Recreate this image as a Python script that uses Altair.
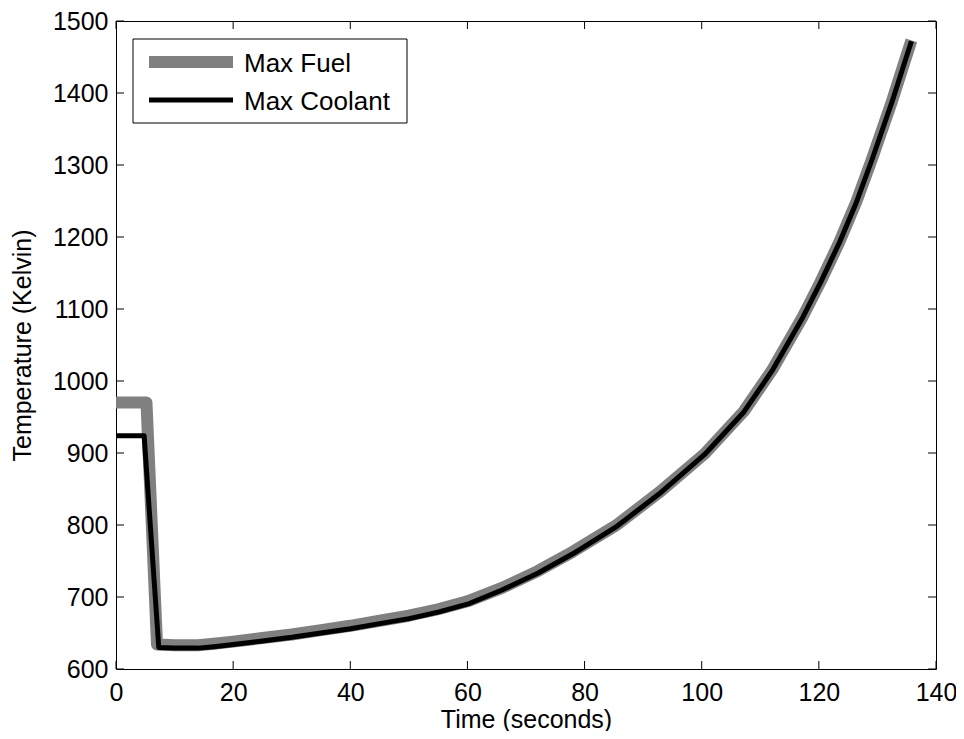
import altair as alt
import pandas as pd

# ---- data ----
time_fuel = [0, 5.2, 7.0, 10, 14, 16.7, 20, 25, 30, 35, 40, 45, 50, 55, 60, 66, 72, 78,
             85.3, 92.7, 100.5, 107.2, 112, 117.1, 120.3, 123.5, 126.4, 129.1, 132.5, 135.8]
temp_fuel = [970, 970, 634, 633, 633, 635, 638, 643, 648, 654, 660, 667, 674, 683, 694, 713, 736, 763,
             799, 845, 899, 958, 1015, 1087, 1138, 1193, 1249, 1309, 1389, 1473]

time_coolant = [0, 4.8, 7.3, 10, 14, 16.7, 20, 25, 30, 35, 40, 45, 50, 55, 60, 66, 72, 78,
                85.3, 92.7, 100.5, 107.2, 112, 117.1, 120.3, 123.5, 126.4, 129.1, 132.5, 135.8]
temp_coolant = [924, 924, 630, 629, 629, 631, 634, 639, 644, 650, 656, 663, 670, 679, 690, 710, 733, 760,
                797, 843, 898, 957, 1014, 1086, 1137, 1192, 1248, 1308, 1388, 1472]

x_ticks = [0, 20, 40, 60, 80, 100, 120, 140]
y_ticks = [600, 700, 800, 900, 1000, 1100, 1200, 1300, 1400, 1500]
series_names = ["Max Fuel", "Max Coolant"]
series_colors = ["#808080", "#000000"]
series_widths = [12, 5]

FONT = "Liberation Sans"
FS = 25
FS_LEG = 26
W, H = 820, 648

fuel = pd.DataFrame({"t": time_fuel, "T": temp_fuel, "i": list(range(len(time_fuel)))})
cool = pd.DataFrame({"t": time_coolant, "T": temp_coolant, "i": list(range(len(time_coolant)))})

xs = alt.Scale(domain=[0, 140], nice=False, zero=False)
ys = alt.Scale(domain=[600, 1500], nice=False, zero=False)

x_axis = alt.Axis(values=x_ticks, format="d", title="Time (seconds)", grid=False, domain=False, ticks=False,
                  tickSize=0, labelPadding=11, titlePadding=2, labelFontSize=FS, titleFontSize=FS,
                  labelFont=FONT, titleFont=FONT, labelColor="black", titleColor="black",
                  titleFontWeight="normal", labelFlush=False)
y_axis = alt.Axis(values=y_ticks, format="d", title="Temperature (Kelvin)", grid=False, domain=False, ticks=False,
                  tickSize=0, labelPadding=8, titlePadding=17, labelFontSize=FS, titleFontSize=FS,
                  labelFont=FONT, titleFont=FONT, labelColor="black", titleColor="black",
                  titleFontWeight="normal", labelFlush=False)

X = lambda f: alt.X(f, scale=xs, axis=x_axis)
Y = lambda f: alt.Y(f, scale=ys, axis=y_axis)

fuel_line = alt.Chart(fuel).mark_line(
    color=series_colors[0], strokeWidth=series_widths[0], strokeCap="butt", strokeJoin="round"
).encode(x=X("t:Q"), y=Y("T:Q"), order="i:Q")

cool_line = alt.Chart(cool).mark_line(
    color=series_colors[1], strokeWidth=series_widths[1], strokeCap="butt", strokeJoin="round"
).encode(x=X("t:Q"), y=Y("T:Q"), order="i:Q")

xt = pd.DataFrame({"t": x_ticks})
yt = pd.DataFrame({"T": y_ticks})
TL = 8
tick_bottom = alt.Chart(xt).mark_rule(color="black", strokeWidth=1).encode(
    x=X("t:Q"), y=alt.value(H), y2=alt.value(H - TL))
tick_top = alt.Chart(xt).mark_rule(color="black", strokeWidth=1).encode(
    x=X("t:Q"), y=alt.value(0), y2=alt.value(TL))
tick_left = alt.Chart(yt).mark_rule(color="black", strokeWidth=1).encode(
    y=Y("T:Q"), x=alt.value(0), x2=alt.value(TL))
tick_right = alt.Chart(yt).mark_rule(color="black", strokeWidth=1).encode(
    y=Y("T:Q"), x=alt.value(W), x2=alt.value(W - TL))

one = pd.DataFrame({"a": [0]})
legend_box = alt.Chart(one).mark_rect(fill="white", stroke="black", strokeWidth=1).encode(
    x=alt.value(17), x2=alt.value(291), y=alt.value(18), y2=alt.value(102))
sw_fuel = alt.Chart(one).mark_rule(color=series_colors[0], strokeWidth=series_widths[0], strokeCap="butt").encode(
    x=alt.value(33), x2=alt.value(117), y=alt.value(41))
sw_cool = alt.Chart(one).mark_rule(color=series_colors[1], strokeWidth=series_widths[1], strokeCap="butt").encode(
    x=alt.value(33), x2=alt.value(117), y=alt.value(79))
lab_fuel = alt.Chart(one).mark_text(align="left", baseline="middle", font=FONT, fontSize=FS_LEG, color="black").encode(
    x=alt.value(128), y=alt.value(43), text=alt.value(series_names[0]))
lab_cool = alt.Chart(one).mark_text(align="left", baseline="middle", font=FONT, fontSize=FS_LEG, color="black").encode(
    x=alt.value(128), y=alt.value(81), text=alt.value(series_names[1]))

chart = alt.layer(
    fuel_line, cool_line, tick_bottom, tick_top, tick_left, tick_right,
    legend_box, sw_fuel, sw_cool, lab_fuel, lab_cool,
).properties(
    width=W, height=H,
    autosize=alt.AutoSizeParams(type="none"),
    padding={"left": 108, "top": 13, "right": 20, "bottom": 62},
    background="white",
).configure_view(stroke="black", strokeWidth=1)

chart.save("out.html", embed_options={"renderer": "svg", "actions": False})
